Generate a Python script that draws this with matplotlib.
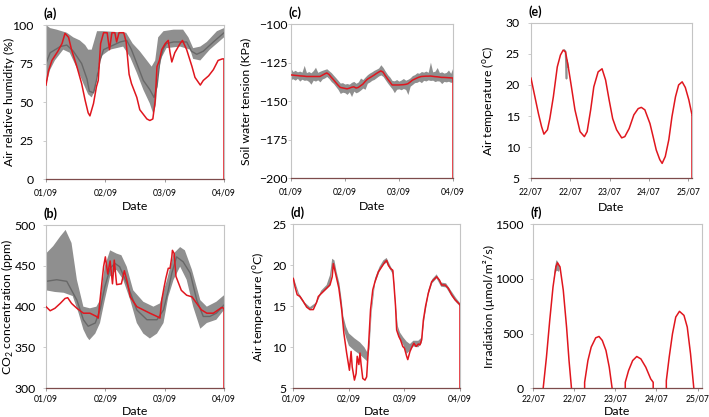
import numpy as np
import matplotlib.pyplot as plt

plt.rcParams['font.family'] = ['Lato', 'DejaVu Sans']
plt.rcParams['mathtext.fontset'] = 'custom'
plt.rcParams['mathtext.rm'] = 'Lato'

RED = '#e0161e'
BAND = '#8f8f8f'
MEAN = '#686868'
FRAME = '#c4c4c4'
BASE = '#7d4b4b'

# ---- time axis labels
sep_ticks = [0, 1, 2, 3]
sep_labels = ['01/09', '02/09', '03/09', '04/09']
jul_ticks = [0, 1, 2, 3, 4]
jul_labels = ['22/07', '22/07', '23/07', '24/07', '25/07']

# ---- (a) air relative humidity
a_obs_t = [0, 0.04, 0.1, 0.2, 0.27, 0.32, 0.38, 0.43, 0.52, 0.60, 0.66, 0.71, 0.74, 0.80, 0.85,
           0.88, 0.92, 0.97, 1.03, 1.07, 1.11, 1.16, 1.19, 1.23, 1.31, 1.35, 1.40, 1.44, 1.53, 1.58,
           1.64, 1.70, 1.75, 1.80, 1.84, 1.87, 1.91, 1.95, 2.01, 2.06, 2.09, 2.12, 2.17, 2.26, 2.30,
           2.37, 2.46, 2.51, 2.60, 2.65, 2.74, 2.82, 2.90, 2.97, 3.0]
a_obs = [61, 70, 77, 83, 88, 94.6, 92, 84, 73, 62, 51, 43, 41, 49, 60,
         64, 88, 95, 95, 84, 95, 95, 89, 95, 95, 89, 68, 62, 53, 45,
         42, 39, 38, 39, 51, 73, 77, 84, 88, 90, 82, 76, 82, 88, 90,
         84, 73, 66, 61, 64, 67, 71, 77, 78, 78]
a_mean_t = [0, 0.07, 0.24, 0.35, 0.46, 0.6, 0.69, 0.73, 0.8, 0.85, 0.91, 0.97, 1.08, 1.25, 1.36, 1.44,
            1.53, 1.64, 1.75, 1.82, 1.87, 1.92, 1.98, 2.03, 2.15, 2.37, 2.45, 2.54, 2.65, 2.82, 3.0]
a_mean = [75, 82, 86, 87, 83, 75, 65, 57, 56, 64, 77, 84, 86, 89, 90, 84,
          75, 64, 58, 53, 60, 77, 85, 88, 89, 89, 83, 81, 83, 89, 95]
a_hi_t = [0, 0.07, 0.18, 0.35, 0.46, 0.57, 0.66, 0.71, 0.77, 0.86, 0.97, 1.35, 1.46, 1.58, 1.70,
          1.78, 1.84, 1.89, 1.98, 2.15, 2.31, 2.40, 2.48, 2.60, 2.71, 2.88, 3.0]
a_hi = [100, 98, 97, 95, 92, 90, 87, 84, 84, 96, 96, 95, 88, 83, 77,
        73, 77, 92, 96, 97, 97, 92, 85, 86, 89, 96, 98]
a_lo_t = [0, 0.07, 0.15, 0.29, 0.40, 0.52, 0.63, 0.71, 0.77, 0.83, 0.88, 0.94, 1.08, 1.30, 1.42,
          1.53, 1.64, 1.75, 1.81, 1.85, 1.89, 1.95, 2.03, 2.26, 2.43, 2.48, 2.60, 2.76, 3.0]
a_lo = [61, 71, 77, 84, 82, 72, 62, 55, 53, 58, 73, 80, 84, 86, 79,
        69, 58, 49, 42, 48, 69, 79, 85, 86, 84, 78, 77, 84, 92]

# ---- (b) CO2 concentration
b_obs_t = [0, 0.07, 0.15, 0.24, 0.32, 0.365, 0.43, 0.52, 0.63, 0.74, 0.85, 0.88, 0.91, 0.97, 1.0,
           1.04, 1.08, 1.12, 1.15, 1.19, 1.27, 1.32, 1.37, 1.42, 1.53, 1.64, 1.75, 1.87, 1.92, 1.95,
           1.99, 2.02, 2.06, 2.09, 2.12, 2.13, 2.16, 2.19, 2.28, 2.37, 2.46, 2.54, 2.62, 2.71, 2.82,
           2.90, 2.96, 3.0]
b_obs = [400, 395, 398, 404, 410, 411, 404, 398, 392, 392, 388, 386, 408, 449, 461,
         440, 456, 428, 457, 427, 428, 444, 430, 412, 400, 396, 392, 388, 386, 408,
         424, 435, 447, 447, 461, 469, 465, 437, 420, 414, 412, 404, 396, 392, 392,
         396, 399, 398]
b_mean_t = [0, 0.18, 0.35, 0.52, 0.63, 0.71, 0.83, 0.91, 0.99, 1.08, 1.16, 1.24, 1.36, 1.53, 1.70,
            1.87, 1.98, 2.06, 2.12, 2.20, 2.31, 2.43, 2.54, 2.65, 2.76, 2.87, 3.0]
b_mean = [431, 433, 431, 408, 384, 376, 380, 396, 424, 447, 453, 449, 429, 396, 384,
          384, 396, 420, 441, 461, 455, 441, 408, 388, 388, 392, 402]
b_hi_t = [0, 0.12, 0.24, 0.33, 0.43, 0.52, 0.63, 0.74, 0.85, 0.91, 0.99, 1.08, 1.19, 1.27, 1.36,
          1.47, 1.64, 1.81, 1.92, 2.04, 2.15, 2.26, 2.34, 2.46, 2.60, 2.71, 2.87, 3.0]
b_hi = [465, 474, 486, 494, 478, 433, 400, 398, 400, 408, 449, 469, 465, 463, 449,
        420, 406, 400, 404, 433, 465, 473, 469, 445, 408, 400, 406, 414]
b_lo_t = [0, 0.15, 0.3, 0.45, 0.55, 0.63, 0.69, 0.73, 0.83, 0.91, 0.99, 1.08, 1.19, 1.30, 1.42,
          1.53, 1.64, 1.75, 1.87, 1.98, 2.06, 2.15, 2.26, 2.37, 2.48, 2.60, 2.71, 2.87, 3.0]
b_lo = [420, 418, 417, 413, 392, 372, 363, 359, 367, 380, 408, 437, 445, 433, 408,
        380, 367, 361, 367, 380, 412, 433, 449, 433, 400, 373, 380, 384, 396]

# ---- (c) soil water tension, hourly records
c_time = np.arange(73) / 24
c_obs = [-133.0, -133.1, -133.3, -133.4, -133.6, -133.7, -133.8, -134.0, -134.0, -134.0,
         -134.0, -134.0, -134.0, -134.0, -133.2, -132.4, -131.7, -132.7, -134.5, -136.1,
         -137.9, -139.6, -141.1, -141.4, -141.7, -142.0, -141.6, -141.0, -140.7, -141.5,
         -141.1, -140.0, -139.0, -137.3, -135.8, -134.9, -134.0, -133.1, -132.1, -131.2,
         -130.4, -131.2, -133.5, -135.6, -137.5, -139.5, -139.5, -139.5, -139.5, -139.4,
         -139.3, -139.1, -138.7, -137.6, -136.4, -135.7, -135.0, -134.4, -134.0, -133.9,
         -133.8, -133.8, -133.7, -133.9, -134.1, -134.2, -134.4, -134.6, -134.6, -134.7,
         -134.8, -134.9, -135.0]
c_hi = [-128.5, -130.8, -130.0, -131.0, -130.5, -131.2, -126.8, -131.5, -130.8, -131.6,
        -130.2, -128.0, -131.3, -130.6, -130.0, -129.5, -129.0, -130.3, -131.5, -133.2,
        -134.8, -136.5, -138.3, -138.0, -138.9, -138.6, -139.0, -137.8, -137.2, -138.4,
        -137.5, -135.0, -136.0, -134.4, -132.9, -131.8, -131.0, -130.0, -129.3, -128.5,
        -126.4, -128.2, -130.6, -132.8, -134.4, -136.6, -136.8, -136.0, -137.0, -136.3,
        -135.3, -136.4, -135.8, -134.9, -133.4, -132.8, -131.6, -131.9, -130.8, -131.2,
        -130.5, -131.3, -124.7, -131.0, -130.6, -128.2, -131.5, -131.0, -131.8, -131.4,
        -129.8, -132.0, -128.0]
c_lo = [-136.0, -135.5, -136.4, -135.2, -137.0, -135.8, -136.5, -136.3, -137.2, -139.0,
        -136.4, -137.0, -136.2, -137.5, -135.6, -135.0, -134.0, -135.4, -137.3, -138.6,
        -140.5, -142.4, -145.0, -144.2, -144.5, -145.6, -144.0, -147.0, -143.5, -144.6,
        -143.9, -142.8, -141.5, -142.3, -138.4, -137.6, -136.5, -135.9, -134.8, -133.7,
        -133.0, -134.0, -136.2, -138.3, -140.2, -142.0, -144.5, -142.3, -142.0, -142.6,
        -141.8, -142.4, -145.7, -140.3, -139.2, -138.0, -137.8, -137.0, -138.0, -136.5,
        -136.9, -136.2, -136.6, -136.4, -137.3, -136.8, -137.0, -138.6, -137.2, -137.5,
        -137.1, -137.8, -137.5]

# ---- (d) air temperature, September
d_obs_t = [0, 0.03, 0.07, 0.12, 0.18, 0.24, 0.30, 0.36, 0.42, 0.45, 0.51, 0.60, 0.66, 0.70, 0.72,
           0.78, 0.82, 0.87, 0.91, 0.96, 1.01, 1.04, 1.06, 1.10, 1.13, 1.15, 1.18, 1.20, 1.22, 1.25,
           1.29, 1.32, 1.35, 1.39, 1.43, 1.47, 1.53, 1.59, 1.65, 1.68, 1.71, 1.75, 1.79, 1.81, 1.84,
           1.86, 1.90, 1.93, 1.97, 2.00, 2.04, 2.06, 2.10, 2.14, 2.17, 2.21, 2.25, 2.28, 2.31, 2.34,
           2.38, 2.43, 2.49, 2.55, 2.58, 2.63, 2.67, 2.73, 2.79, 2.85, 2.91, 2.97, 3.0]
d_obs = [18.4, 17.4, 16.4, 16.2, 15.6, 14.9, 14.6, 14.6, 15.5, 16.2, 16.6, 17.2, 17.6, 18.6, 20.2,
         18.4, 17.2, 14.6, 11.7, 9.3, 7.2, 9.5, 7.6, 6.0, 6.8, 8.9, 7.9, 9.3, 7.9, 6.2,
         6.0, 6.4, 9.7, 14.6, 17.0, 18.0, 19.2, 19.8, 20.4, 20.6, 20.0, 19.6, 19.4, 17.8, 15.0,
         12.1, 11.3, 10.9, 10.1, 9.9, 8.9, 8.5, 9.5, 10.1, 10.5, 10.1, 10.4, 10.3, 10.9, 13.3,
         15.0, 16.6, 18.0, 18.4, 18.6, 18.2, 17.6, 17.6, 17.2, 16.4, 15.8, 15.4, 15.2]
d_band_t = [0, 0.1, 0.2, 0.3, 0.4, 0.5, 0.6, 0.66, 0.7, 0.74, 0.78, 0.83, 0.87, 0.9, 0.95, 1.0,
            1.1, 1.2, 1.28, 1.33, 1.37, 1.41, 1.47, 1.55, 1.62, 1.68, 1.75, 1.8, 1.84, 1.88, 1.92,
            1.98, 2.04, 2.1, 2.16, 2.25, 2.31, 2.36, 2.43, 2.5, 2.58, 2.66, 2.75, 2.85, 2.93, 3.0]
d_hi = [18.6, 16.6, 15.5, 14.9, 15.4, 16.9, 17.6, 18.8, 20.8, 20.6, 19.2, 17.8, 15.8, 13.8, 12.5, 11.7,
        11.1, 10.6, 10.0, 9.4, 11.0, 15.0, 18.4, 19.8, 20.6, 20.9, 19.9, 19.3, 15.5, 12.6, 11.8,
        11.2, 10.7, 10.4, 10.8, 10.8, 11.2, 14.4, 17.0, 18.3, 18.9, 17.9, 17.8, 16.8, 16.0, 15.4]
d_lo = [18.2, 16.2, 15.2, 14.5, 15.1, 16.5, 17.1, 17.5, 19.6, 19.8, 18.4, 16.8, 14.6, 12.4, 11.2, 10.2,
        9.6, 9.1, 8.6, 8.3, 9.8, 14.2, 17.8, 19.2, 20.1, 20.3, 19.4, 18.8, 14.6, 11.6, 10.9,
        10.3, 9.2, 9.6, 10.1, 10.0, 10.5, 13.5, 16.4, 17.8, 18.4, 17.4, 17.3, 16.2, 15.5, 15.0]

# ---- (e) air temperature, July
e_obs_t = [0, 0.10, 0.19, 0.27, 0.33, 0.42, 0.48, 0.57, 0.67, 0.75, 0.82, 0.88, 0.95, 1.03, 1.12,
           1.25, 1.36, 1.43, 1.52, 1.60, 1.71, 1.81, 1.90, 1.99, 2.08, 2.18, 2.31, 2.39, 2.50, 2.62,
           2.73, 2.81, 2.90, 3.03, 3.11, 3.19, 3.28, 3.34, 3.42, 3.51, 3.59, 3.68, 3.76, 3.85, 3.93,
           4.02, 4.10]
e_obs = [21.1, 18.1, 15.4, 13.3, 12.1, 12.8, 14.6, 18.1, 22.9, 24.8, 25.6, 25.3, 22.9, 19.7, 16.0,
         12.5, 11.7, 12.5, 16.0, 19.7, 22.1, 22.6, 20.8, 17.6, 14.6, 12.8, 11.5, 11.7, 13.0, 15.2,
         16.2, 16.4, 16.0, 13.8, 11.7, 9.55, 8.0, 7.4, 8.5, 11.2, 14.9, 18.1, 20.0, 20.5, 19.6,
         17.6, 15.2]
e_sim_t = [0.85, 0.88, 0.905, 0.915, 0.95]
e_sim = [25.6, 25.4, 21.0, 24.0, 22.9]

# ---- (f) irradiation (night gaps as nan)
f_obs_t = [0.24, 0.32, 0.40, 0.48, 0.55, 0.59, 0.65, 0.73, 0.81, 0.87, 0.93, np.nan,
           1.25, 1.25, 1.33, 1.41, 1.52, 1.60, 1.68, 1.77, 1.85, 1.92, np.nan,
           2.24, 2.24, 2.32, 2.42, 2.52, 2.62, 2.74, 2.86, 2.92, 2.92, np.nan,
           3.24, 3.24, 3.31, 3.39, 3.47, 3.56, 3.67, 3.75, 3.83, 3.91]
f_obs = [0, 285, 621, 927, 1111, 1148, 1111, 897, 560, 254, 0, np.nan,
         0, 55, 254, 377, 462, 474, 438, 346, 193, 0, np.nan,
         0, 55, 162, 254, 291, 269, 193, 86, 55, 0, np.nan,
         0, 70, 285, 499, 652, 704, 667, 560, 315, 0]
f_band_t = [0.50, 0.53, 0.56, 0.59, 0.62, 0.64]
f_hi = [1010, 1110, 1170, 1165, 1130, 1100]
f_lo = [990, 1050, 1070, 1075, 1065, 1080]

FS = 8.8


def band(ax, t_hi, hi, t_lo, lo):
    x = np.concatenate([t_hi, t_lo[::-1]])
    y = np.concatenate([hi, lo[::-1]])
    ax.fill(x, y, color=BAND, lw=0, zorder=1)


def observed(ax, t, v, ymin, drop=True):
    ax.plot(t, v, color=RED, lw=1.1, zorder=3)
    if drop:
        ax.vlines(t[-1], ymin, v[-1], color=RED, lw=1.1, zorder=3)


def style(ax, xticks, xlabels, ylim, ystep, ylabel, tag, ypad, ylab_x, xlab_y, xpad):
    ax.set_xlim(xticks[0], xticks[-1] if xlabels is sep_labels else 4.1)
    ax.set_ylim(*ylim)
    ax.set_xticks(xticks)
    ax.set_xticklabels(xlabels)
    ax.set_yticks(np.arange(ylim[0], ylim[1] + 0.1, ystep))
    for s in ['top', 'right', 'left']:
        ax.spines[s].set_color(FRAME)
        ax.spines[s].set_linewidth(0.8)
    ax.spines['bottom'].set_color(BASE)
    ax.spines['bottom'].set_linewidth(0.9)
    ax.tick_params(axis='x', labelsize=6.2, length=2, width=0.6, pad=xpad, color='#8c8c8c')
    ax.tick_params(axis='y', labelsize=FS, length=2, width=0.6, pad=ypad, color=FRAME)
    ax.set_xlabel('Date', fontsize=FS)
    ax.xaxis.set_label_coords(0.5, xlab_y)
    ax.set_ylabel(ylabel, fontsize=FS)
    ax.yaxis.set_label_coords(ylab_x, 0.5)
    ax.text(-0.015, 1.03, tag, transform=ax.transAxes, fontsize=9,
            fontweight='bold', ha='left', va='bottom')


fig = plt.figure(figsize=(7.09, 4.17), dpi=100)

ax_a = fig.add_axes([0.0649, 0.5707, 0.2511, 0.3693])
ax_c = fig.add_axes([0.4100, 0.5724, 0.2289, 0.3700])
ax_e = fig.add_axes([0.7489, 0.5724, 0.2271, 0.3731])
ax_b = fig.add_axes([0.0649, 0.0688, 0.2511, 0.3916])
ax_d = fig.add_axes([0.4137, 0.0688, 0.2351, 0.3933])
ax_f = fig.add_axes([0.7522, 0.0688, 0.2374, 0.3933])

# (a)
band(ax_a, a_hi_t, a_hi, a_lo_t, a_lo)
ax_a.plot(a_mean_t, a_mean, color=MEAN, lw=1.0, zorder=2)
observed(ax_a, a_obs_t, a_obs, 0)
style(ax_a, sep_ticks, sep_labels, (0, 100), 25, 'Air relative humidity (%)', '(a)',
      7.0, -0.172, -0.145, 4.5)

# (b)
band(ax_b, b_hi_t, b_hi, b_lo_t, b_lo)
ax_b.plot(b_mean_t, b_mean, color=MEAN, lw=1.0, zorder=2)
observed(ax_b, b_obs_t, b_obs, 300)
style(ax_b, sep_ticks, sep_labels, (300, 500), 50, 'CO$_2$ concentration (ppm)', '(b)',
      5.2, -0.168, -0.108, 2.6)

# (c)
ax_c.fill_between(c_time, c_lo, c_hi, color=BAND, lw=0, zorder=1)
observed(ax_c, c_time, c_obs, -200)
style(ax_c, sep_ticks, sep_labels, (-200, -100), 25, 'Soil water tension (KPa)', '(c)',
      0.5, -0.245, -0.15, 4.5)

# (d)
band(ax_d, d_band_t, d_hi, d_band_t, d_lo)
observed(ax_d, d_obs_t, d_obs, 5)
style(ax_d, sep_ticks, sep_labels, (5, 25), 5, 'Air temperature ($^{\\rm o}$C)', '(d)',
      2.8, -0.165, -0.108, 2.6)

# (e)
ax_e.plot(e_sim_t, e_sim, color=BAND, lw=1.2, zorder=2)
observed(ax_e, e_obs_t, e_obs, 5)
style(ax_e, jul_ticks, jul_labels, (5, 30), 5, 'Air temperature ($^{\\rm o}$C)', '(e)',
      5.9, -0.220, -0.15, 4.5)

# (f)
band(ax_f, f_band_t, f_hi, f_band_t, f_lo)
observed(ax_f, f_obs_t, f_obs, 0, drop=False)
style(ax_f, jul_ticks, jul_labels, (0, 1500), 500, 'Irradiation (µmol/m²/s)', '(f)',
      5.2, -0.228, -0.108, 2.6)

fig.savefig('out.png', dpi=100)
